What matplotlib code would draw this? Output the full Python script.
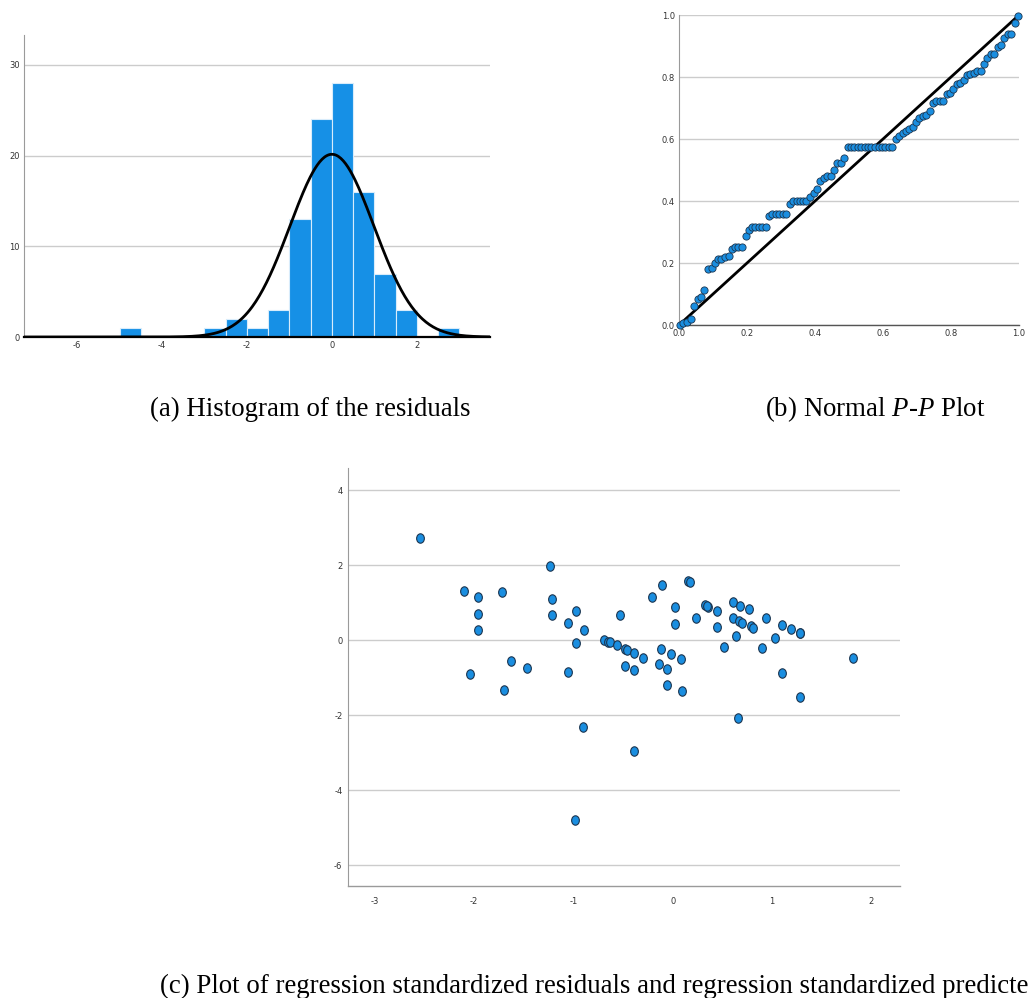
import matplotlib.pyplot as plt
import numpy as np
from matplotlib.path import Path
from matplotlib.transforms import Affine2D

# (a) histogram of residuals, bin width 0.5
bin_left = [-5.0, -3.0, -2.5, -2.0, -1.5, -1.0, -0.5, 0.0, 0.5, 1.0, 1.5, 2.5]
bin_count = [1, 1, 2, 1, 3, 13, 24, 28, 16, 7, 3, 1]
res_mean = 0.0
res_sd = 0.99
res_n = 100

# (b) normal P-P plot
pp_x = [0.003, 0.013, 0.025, 0.035, 0.045, 0.056, 0.066, 0.075, 0.086, 0.096,
        0.106, 0.116, 0.125, 0.135, 0.146, 0.156, 0.166, 0.175, 0.185, 0.196,
        0.206, 0.215, 0.225, 0.235, 0.245, 0.256, 0.265, 0.275, 0.285, 0.295,
        0.305, 0.315, 0.326, 0.336, 0.346, 0.356, 0.366, 0.375, 0.386, 0.396,
        0.405, 0.416, 0.426, 0.436, 0.446, 0.455, 0.465, 0.476, 0.486, 0.496,
        0.506, 0.516, 0.526, 0.536, 0.546, 0.556, 0.566, 0.576, 0.587, 0.597,
        0.607, 0.617, 0.627, 0.638, 0.648, 0.658, 0.668, 0.678, 0.688, 0.697,
        0.707, 0.717, 0.728, 0.738, 0.747, 0.757, 0.767, 0.778, 0.787, 0.797,
        0.807, 0.817, 0.827, 0.837, 0.847, 0.857, 0.867, 0.877, 0.887, 0.897,
        0.907, 0.917, 0.927, 0.937, 0.947, 0.957, 0.968, 0.977, 0.987, 0.997]
pp_y = [0.0, 0.005, 0.01, 0.018, 0.061, 0.084, 0.089, 0.114, 0.181, 0.185,
        0.199, 0.213, 0.213, 0.218, 0.223, 0.244, 0.252, 0.252, 0.252, 0.286,
        0.306, 0.317, 0.317, 0.317, 0.317, 0.317, 0.351, 0.357, 0.357, 0.357,
        0.357, 0.357, 0.390, 0.399, 0.399, 0.399, 0.399, 0.399, 0.412, 0.425,
        0.440, 0.465, 0.473, 0.482, 0.482, 0.501, 0.522, 0.522, 0.540, 0.574,
        0.574, 0.574, 0.574, 0.574, 0.574, 0.574, 0.574, 0.574, 0.574, 0.574,
        0.574, 0.574, 0.574, 0.601, 0.610, 0.618, 0.626, 0.633, 0.640, 0.655,
        0.667, 0.674, 0.679, 0.692, 0.715, 0.724, 0.724, 0.724, 0.746, 0.749,
        0.760, 0.778, 0.781, 0.790, 0.808, 0.810, 0.814, 0.819, 0.820, 0.842,
        0.863, 0.873, 0.875, 0.898, 0.905, 0.927, 0.940, 0.940, 0.976, 0.998]

# (c) standardized predicted (x) vs standardized residual (y)
pred = [-2.54, -1.24, -2.10, -1.96, -1.96, -1.96, -1.72, -2.04, -1.63, -1.70,
        -1.47, -1.22, -1.22, -1.05, -1.05, -0.97, -0.97, -0.89, -0.90, -0.98,
        -0.69, -0.65, -0.63, -0.56, -0.53, -0.48, -0.46, -0.48, -0.39, -0.39,
        -0.30, -0.39, -0.21, -0.11, -0.12, -0.14, -0.06, -0.06, -0.02, 0.02,
        0.02, 0.08, 0.09, 0.15, 0.17, 0.24, 0.33, 0.36, 0.45, 0.45,
        0.52, 0.61, 0.61, 0.64, 0.67, 0.70, 0.68, 0.66, 0.77, 0.79,
        0.81, 0.90, 0.94, 1.03, 1.10, 1.10, 1.19, 1.28, 1.28, 1.82,
        1.28, 0.35]
resid = [2.72, 1.99, 1.32, 1.15, 0.71, 0.27, 1.28, -0.90, -0.56, -1.34,
         -0.75, 1.11, 0.67, 0.46, -0.84, 0.79, -0.08, 0.27, -2.32, -4.81,
         0.01, -0.04, -0.06, -0.14, 0.68, -0.24, -0.27, -0.68, -0.35, -0.79,
         -0.47, -2.95, 1.15, 1.46, -0.25, -0.65, -0.76, -1.20, -0.37, 0.88,
         0.44, -0.50, -1.37, 1.58, 1.55, 0.60, 0.93, 0.89, 0.77, 0.34,
         -0.18, 1.01, 0.58, 0.11, 0.51, 0.47, 0.92, -2.07, 0.83, 0.37,
         0.32, -0.22, 0.60, 0.06, 0.40, -0.89, 0.30, 0.20, -1.53, -0.47,
         0.18, 0.90]

bar_blue = '#1690e6'
dot_blue = '#1a8ee0'
grid_c = '#cccccc'
spine_c = '#9a9a9a'
tick_c = '#333333'

plt.rcParams['mathtext.fontset'] = 'custom'
plt.rcParams['mathtext.rm'] = 'Liberation Serif'
plt.rcParams['mathtext.it'] = 'Liberation Serif:italic'

fig = plt.figure(figsize=(10.28, 9.98), dpi=100)


def style(ax):
    ax.set_facecolor('white')
    for s in ['top', 'right']:
        ax.spines[s].set_visible(False)
    ax.spines['left'].set_color(spine_c)
    ax.spines['left'].set_linewidth(0.8)
    ax.spines['bottom'].set_color('#555555')
    ax.spines['bottom'].set_linewidth(1.0)
    ax.tick_params(length=0, labelsize=6, colors=tick_c, pad=3)
    ax.yaxis.grid(True, color=grid_c, linewidth=1.0)
    ax.set_axisbelow(True)


# ---- (a) histogram
ax1 = fig.add_axes([0.0233, 0.6623, 0.4533, 0.3026])
style(ax1)
ax1.bar(bin_left, bin_count, width=0.5, align='edge', color=bar_blue,
        edgecolor='#d8ecfb', linewidth=0.8, zorder=2)
xs = np.linspace(-7.3, 3.8, 400)
curve = res_n * 0.5 / (res_sd * np.sqrt(2 * np.pi)) * np.exp(-0.5 * ((xs - res_mean) / res_sd) ** 2)
ax1.plot(xs, curve, color='black', linewidth=2.0, zorder=3)
ax1.set_xlim(-7.25, 3.72)
ax1.set_ylim(0, 33.3)
ax1.set_xticks([-6, -4, -2, 0, 2])
ax1.set_yticks([0, 10, 20, 30])
ax1.set_xticklabels(['-6', '-4', '-2', '0', '2'])
ax1.spines['bottom'].set_color('black')
ax1.spines['bottom'].set_linewidth(1.6)

# ---- (b) P-P plot
ax2 = fig.add_axes([0.6605, 0.6743, 0.3307, 0.3106])
style(ax2)
ax2.plot([0, 1], [0, 1], color='black', linewidth=2.0, zorder=2)
ax2.scatter(pp_x, pp_y, s=27, color=dot_blue, edgecolor='#1b3550',
            linewidth=0.6, zorder=3, clip_on=False)
ax2.set_xlim(0, 1)
ax2.set_ylim(0, 1)
ticks = [0.0, 0.2, 0.4, 0.6, 0.8, 1.0]
ax2.set_xticks(ticks)
ax2.set_yticks(ticks)
ax2.set_xticklabels(['%.1f' % t for t in ticks])
ax2.set_yticklabels(['%.1f' % t for t in ticks])

# ---- (c) scatter
ax3 = fig.add_axes([0.3385, 0.1122, 0.537, 0.4188])
style(ax3)
ax3.spines['bottom'].set_color(spine_c)
oval = Path.unit_circle().transformed(Affine2D().scale(0.82, 1.0))
ax3.scatter(pred, resid, s=46, marker=oval, color=dot_blue, edgecolor='#1b3550',
            linewidth=0.8, zorder=3)
ax3.set_xlim(-3.27, 2.29)
ax3.set_ylim(-6.56, 4.59)
ax3.set_xticks([-3, -2, -1, 0, 1, 2])
ax3.set_yticks([-6, -4, -2, 0, 2, 4])
ax3.set_xticklabels(['-3', '-2', '-1', '0', '1', '2'])
ax3.set_yticklabels(['-6', '-4', '-2', '0', '2', '4'])
ax3.tick_params(axis='x', pad=8)
ax3.tick_params(axis='y', pad=4)

# captions
cap = dict(family='Liberation Serif', fontsize=19.4, color='black', va='center')
fig.text(310 / 1028, 1 - 409 / 998, '(a) Histogram of the residuals', ha='center', **cap)
fig.text(875 / 1028, 1 - 409 / 998, '(b) Normal $\\mathit{P}$-$\\mathit{P}$ Plot', ha='center', **cap)
fig.text(160 / 1028, 1 - 986 / 998,
         '(c) Plot of regression standardized residuals and regression standardized predicted value',
         ha='left', **cap)

fig.savefig('out.png', dpi=100, facecolor='white')
